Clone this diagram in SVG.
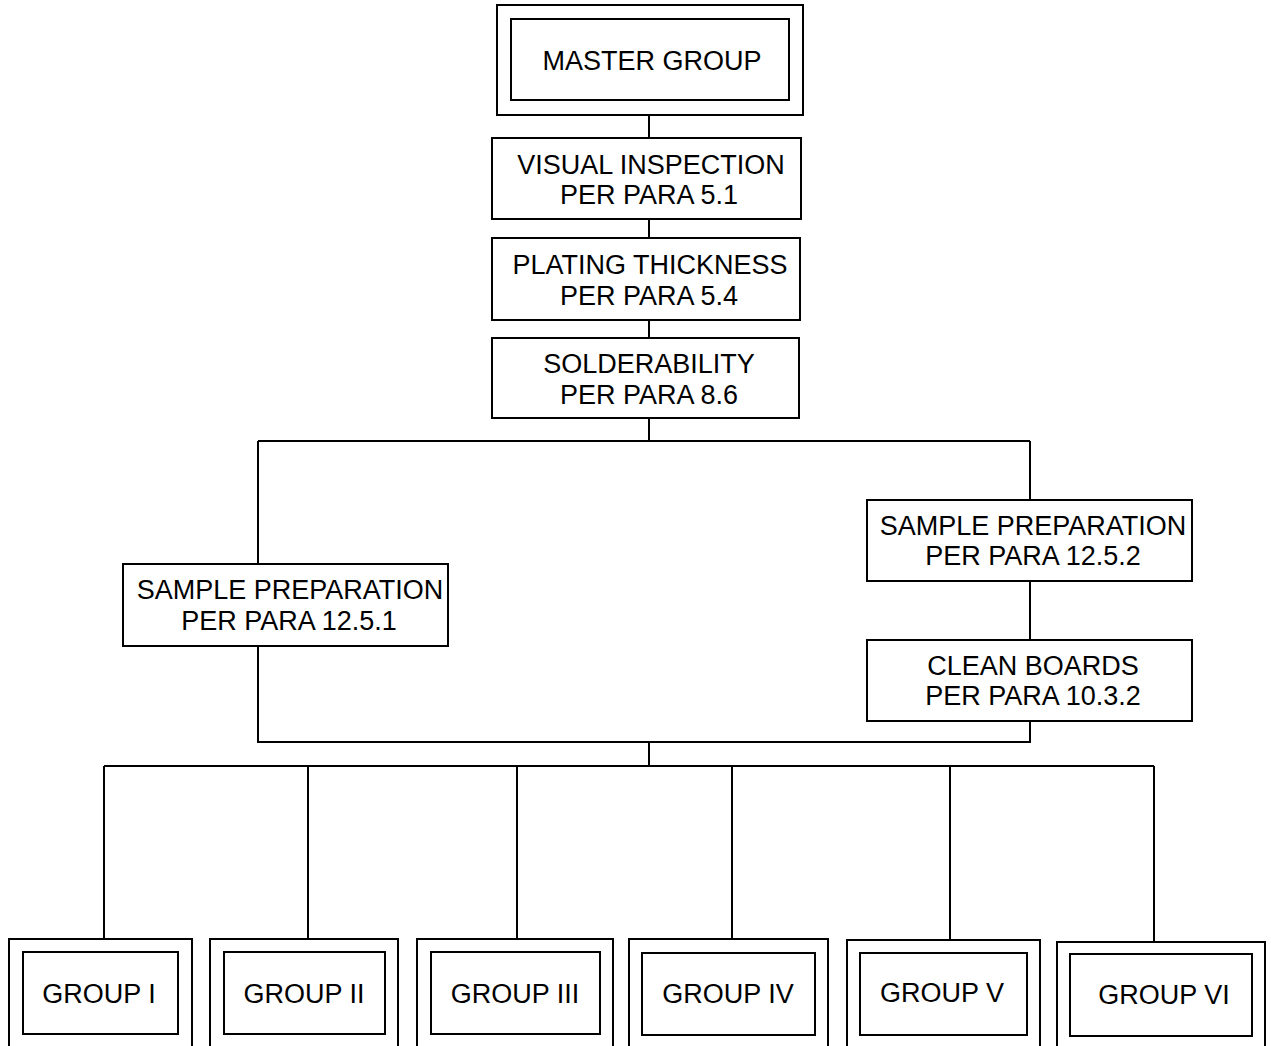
<svg xmlns="http://www.w3.org/2000/svg" width="1271" height="1046" viewBox="0 0 1271 1046">
<style>
rect{fill:#fff;stroke:#000;stroke-width:2}
.c{fill:none;stroke:#000;stroke-width:2}
text{font-family:"Liberation Sans",Arial,sans-serif;font-size:27px;fill:#000;text-anchor:middle}
</style>
<rect x="0" y="0" width="1271" height="1046" style="stroke:none"/>
<g id="connectors">
<path class="c" d="M649 115V138M649 219V238M649 320V338M649 418V441M258 441H1030M258 441V564M1030 441V500M1030 581V640M258 646V742H1030V721M649 742V766M104 766H1154M104 766V939M308 766V939M517 766V939M732 766V939M950 766V940M1154 766V942"/>
</g>
<g id="master"><rect x="497" y="5" width="306" height="110"/><rect x="511" y="19" width="278" height="81"/><text x="652" y="70">MASTER GROUP</text></g>
<g id="visual"><rect x="492" y="138" width="309" height="81"/><text x="651" y="174">VISUAL INSPECTION</text><text x="649" y="204">PER PARA 5.1</text></g>
<g id="plating"><rect x="492" y="238" width="308" height="82"/><text x="650" y="274">PLATING THICKNESS</text><text x="649" y="305">PER PARA 5.4</text></g>
<g id="solder"><rect x="492" y="338" width="307" height="80"/><text x="649" y="373">SOLDERABILITY</text><text x="649" y="404">PER PARA 8.6</text></g>
<g id="prep1"><rect x="123" y="564" width="325" height="82"/><text x="290" y="599">SAMPLE PREPARATION</text><text x="289" y="630">PER PARA 12.5.1</text></g>
<g id="prep2"><rect x="867" y="500" width="325" height="81"/><text x="1033" y="535">SAMPLE PREPARATION</text><text x="1033" y="565">PER PARA 12.5.2</text></g>
<g id="clean"><rect x="867" y="640" width="325" height="81"/><text x="1033" y="675">CLEAN BOARDS</text><text x="1033" y="705">PER PARA 10.3.2</text></g>
<g id="g1"><rect x="9" y="939" width="183" height="120"/><rect x="23" y="952" width="155" height="82"/><text x="99" y="1003">GROUP I</text></g>
<g id="g2"><rect x="210" y="939" width="188" height="120"/><rect x="224" y="952" width="161" height="82"/><text x="304" y="1003">GROUP II</text></g>
<g id="g3"><rect x="417" y="939" width="196" height="120"/><rect x="431" y="952" width="169" height="82"/><text x="515" y="1003">GROUP III</text></g>
<g id="g4"><rect x="629" y="939" width="199" height="120"/><rect x="642" y="953" width="173" height="82"/><text x="728" y="1003">GROUP IV</text></g>
<g id="g5"><rect x="847" y="940" width="193" height="120"/><rect x="860" y="953" width="167" height="82"/><text x="942" y="1002">GROUP V</text></g>
<g id="g6"><rect x="1057" y="942" width="208" height="120"/><rect x="1070" y="954" width="182" height="82"/><text x="1164" y="1004">GROUP VI</text></g>
</svg>
